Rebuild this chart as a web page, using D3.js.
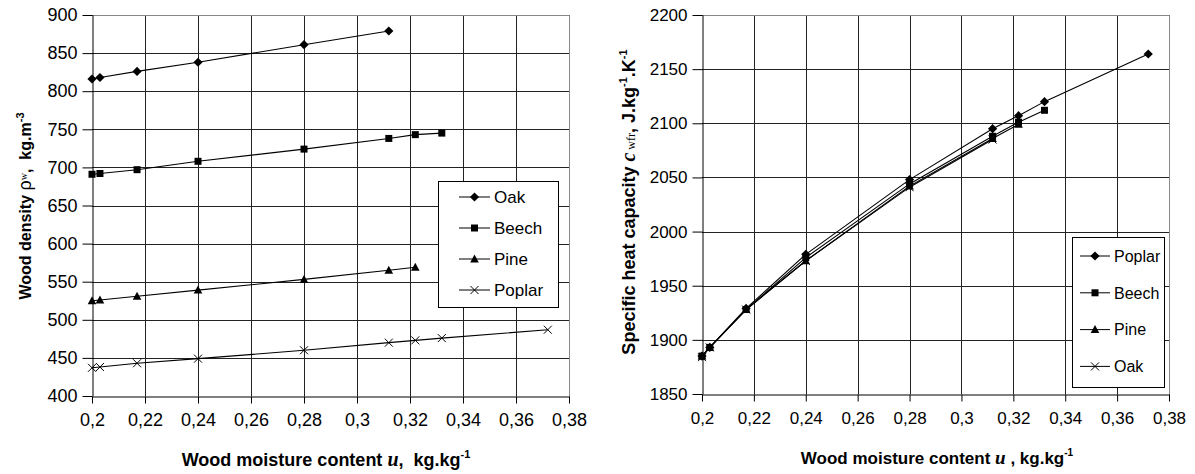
<!DOCTYPE html>
<html>
<head>
<meta charset="utf-8">
<script src="https://cdn.jsdelivr.net/npm/d3@7"></script>
<style>
  body { margin: 0; background: #fff; }
  svg { display: block; font-family: Arial, "Liberation Sans", sans-serif; }
</style>
</head>
<body>
<svg id="chart" width="1195" height="474"></svg>
<script>
//-----------------------------------------
// data
//-----------------------------------------
var uOak = [0.2, 0.203, 0.217, 0.24, 0.28, 0.312];
var uBeech = [0.2, 0.203, 0.217, 0.24, 0.28, 0.312, 0.322, 0.332];
var uPine = [0.2, 0.203, 0.217, 0.24, 0.28, 0.312, 0.322];
var uPoplar = [0.2, 0.203, 0.217, 0.24, 0.28, 0.312, 0.322, 0.332, 0.372];

// wood density, kg.m-3
var densityOak = [816, 818, 826, 838, 861, 879];
var densityBeech = [691, 692, 697, 708, 724, 738, 743, 745];
var densityPine = [525, 526, 531, 539, 553, 565, 569];
var densityPoplar = [437, 438, 443, 449, 460, 470, 473, 476, 487];

// specific heat capacity, J.kg-1.K-1
var heatPoplar = [1885, 1893, 1929, 1979, 2048, 2095, 2107, 2120, 2164];
var heatBeech = [1885, 1893, 1928, 1976, 2044, 2088, 2101, 2112];
var heatPine = [1885, 1893, 1928, 1973, 2042, 2086, 2099];
var heatOak = [1884, 1893, 1928, 1973, 2041, 2085];

var xTicks = [0.2, 0.22, 0.24, 0.26, 0.28, 0.3, 0.32, 0.34, 0.36, 0.38];
var densityTicks = [400, 450, 500, 550, 600, 650, 700, 750, 800, 850, 900];
var heatTicks = [1850, 1900, 1950, 2000, 2050, 2100, 2150, 2200];

function zip(xs, ys) {
    return xs.map(function (x, i) { return { u: x, v: ys[i] }; });
}

var svg = d3.select("#chart");

//-----------------------------------------
// markers
//-----------------------------------------
function drawMarker(g, shape) {
    if (shape === "cross") {
        g.append("path")
            .attr("d", "M-4,-4L4,4M-4,4L4,-4")
            .attr("stroke", "#000")
            .attr("stroke-width", 1)
            .attr("fill", "none");
    } else if (shape === "diamond") {
        g.append("path")
            .attr("d", "M0,-4.6L4.6,0L0,4.6L-4.6,0Z")
            .attr("fill", "#000");
    } else if (shape === "square") {
        g.append("path")
            .attr("d", "M-3.5,-3.5H3.5V3.5H-3.5Z")
            .attr("fill", "#000");
    } else {
        g.append("path")
            .attr("d", "M0,-4.5L4.3,3.5H-4.3Z")
            .attr("fill", "#000");
    }
}

//-----------------------------------------
// one panel
//-----------------------------------------
function drawPanel(cfg) {
    var x = d3.scaleLinear().domain([0.2, 0.38]).range([cfg.left, cfg.right]);
    var y = d3.scaleLinear().domain(cfg.yDomain).range([cfg.bottom, cfg.top]);

    var g = svg.append("g");

    // gridlines
    g.append("g").selectAll("line.h")
        .data(cfg.yTicks.slice(1))
        .enter().append("line")
        .attr("x1", cfg.left).attr("x2", cfg.right)
        .attr("y1", function (d) { return Math.round(y(d)) + 0.5; })
        .attr("y2", function (d) { return Math.round(y(d)) + 0.5; })
        .attr("stroke", "#222").attr("stroke-width", 1);

    g.append("g").selectAll("line.v")
        .data(xTicks.slice(1))
        .enter().append("line")
        .attr("y1", cfg.top).attr("y2", cfg.bottom)
        .attr("x1", function (d) { return Math.round(x(d)) + 0.5; })
        .attr("x2", function (d) { return Math.round(x(d)) + 0.5; })
        .attr("stroke", "#222").attr("stroke-width", 1);

    // plot border (top / right in grey)
    g.append("path")
        .attr("d", "M" + (cfg.left + 0.5) + "," + (cfg.top + 0.5) + "H" + (cfg.right + 0.5) + "V" + (cfg.bottom + 0.5))
        .attr("fill", "none").attr("stroke", "#888");

    // axes
    var fmt = function (d) { return String(+d.toFixed(2)).replace(".", ","); };

    var xAxis = g.append("g")
        .attr("transform", "translate(0," + (Math.round(cfg.bottom) + 0.5) + ")")
        .call(d3.axisBottom(x).tickValues(xTicks).tickFormat(fmt).tickSizeInner(7).tickSizeOuter(0).tickPadding(10));
    xAxis.select(".domain").attr("stroke", "#000");
    xAxis.selectAll(".tick line").attr("stroke", "#000");
    xAxis.selectAll("text").attr("font-size", cfg.tickFs).attr("fill", "#000")
        .attr("font-family", "Arial, 'Liberation Sans', sans-serif");

    var yAxis = g.append("g")
        .attr("transform", "translate(" + (Math.round(cfg.left) + 0.5) + ",0)")
        .call(d3.axisLeft(y).tickValues(cfg.yTicks).tickFormat(d3.format("d")).tickSizeInner(10).tickSizeOuter(0).tickPadding(5));
    yAxis.select(".domain").attr("stroke", "#000");
    yAxis.selectAll(".tick line").attr("stroke", "#000");
    yAxis.selectAll("text").attr("font-size", cfg.tickFs).attr("fill", "#000")
        .attr("font-family", "Arial, 'Liberation Sans', sans-serif");

    // series
    var line = d3.line().x(function (d) { return x(d.u); }).y(function (d) { return y(d.v); });
    cfg.series.forEach(function (s) {
        var pts = zip(s.u, s.v);
        g.append("path")
            .datum(pts)
            .attr("d", line)
            .attr("fill", "none")
            .attr("stroke", "#000")
            .attr("stroke-width", 1.1);
        g.append("g").selectAll("g")
            .data(pts)
            .enter().append("g")
            .attr("transform", function (d) { return "translate(" + x(d.u) + "," + y(d.v) + ")"; })
            .each(function () { drawMarker(d3.select(this), s.shape); });
    });

    // legend
    var lg = cfg.legend;
    var leg = g.append("g");
    leg.append("rect")
        .attr("x", lg.x + 0.5).attr("y", lg.y + 0.5)
        .attr("width", lg.w).attr("height", lg.h)
        .attr("fill", "#fff").attr("stroke", "#000");
    cfg.series.forEach(function (s, i) {
        var ey = lg.y + lg.first + i * lg.step;
        var row = leg.append("g");
        row.append("line")
            .attr("x1", lg.x + lg.lineX).attr("x2", lg.x + lg.lineX + lg.lineW)
            .attr("y1", ey).attr("y2", ey)
            .attr("stroke", "#000");
        var m = row.append("g").attr("transform", "translate(" + (lg.x + lg.lineX + lg.lineW / 2) + "," + ey + ")");
        drawMarker(m, s.shape);
        row.append("text")
            .attr("x", lg.x + lg.lineX + lg.lineW + 4)
            .attr("y", ey)
            .attr("dy", "0.36em")
            .attr("font-size", lg.fs)
            .text(s.name);
    });

    // x title
    var xt = g.append("text")
        .attr("x", cfg.xTitleX).attr("y", cfg.xTitleY)
        .attr("text-anchor", "middle")
        .attr("font-size", cfg.xTitleFs).attr("font-weight", "bold");
    cfg.xTitle(xt);

    // y title
    var yt = g.append("text")
        .attr("transform", "translate(" + cfg.yTitleX + "," + cfg.yTitleY + ") rotate(-90)")
        .attr("text-anchor", "middle")
        .attr("font-size", cfg.yTitleFs).attr("font-weight", "bold");
    cfg.yTitle(yt);
}

//-----------------------------------------
// left panel: density
//-----------------------------------------
drawPanel({
    left: 92, right: 569, top: 15, bottom: 396,
    yDomain: [400, 900], yTicks: densityTicks,
    tickFs: 18, xTitleFs: 18, yTitleFs: 16,
    series: [
        { name: "Oak", shape: "diamond", u: uOak, v: densityOak },
        { name: "Beech", shape: "square", u: uBeech, v: densityBeech },
        { name: "Pine", shape: "triangle", u: uPine, v: densityPine },
        { name: "Poplar", shape: "cross", u: uPoplar, v: densityPoplar }
    ],
    legend: { x: 438, y: 181, w: 120, h: 126, first: 16, step: 31, lineX: 21, lineW: 31, fs: 17 },
    xTitleX: 326, xTitleY: 466,
    xTitle: function (t) {
        t.append("tspan").text("Wood moisture content ");
        t.append("tspan").attr("font-family", "'Liberation Serif', serif").attr("font-style", "italic").attr("font-size", 20).text("u");
        t.append("tspan").text(",\u00a0 kg.kg");
        t.append("tspan").attr("font-size", 11).attr("dy", -8).text("-1");
    },
    yTitleX: 31, yTitleY: 206,
    yTitle: function (t) {
        t.append("tspan").text("Wood density ");
        t.append("tspan").attr("font-weight", "normal").attr("font-size", 18).text("ρ");
        t.append("tspan").attr("font-family", "'Liberation Serif', serif").attr("font-weight", "normal").attr("font-size", 10).attr("dy", -4).text("w");
        t.append("tspan").attr("dy", 4).text(",\u00a0 kg.m");
        t.append("tspan").attr("font-size", 11).attr("dy", -7).text("-3");
    }
});

//-----------------------------------------
// right panel: specific heat capacity
//-----------------------------------------
drawPanel({
    left: 702, right: 1169, top: 15, bottom: 394,
    yDomain: [1850, 2200], yTicks: heatTicks,
    tickFs: 17, xTitleFs: 17, yTitleFs: 18,
    series: [
        { name: "Poplar", shape: "diamond", u: uPoplar, v: heatPoplar },
        { name: "Beech", shape: "square", u: uBeech, v: heatBeech },
        { name: "Pine", shape: "triangle", u: uPine, v: heatPine },
        { name: "Oak", shape: "cross", u: uOak, v: heatOak }
    ],
    legend: { x: 1072, y: 237, w: 92, h: 150, first: 19, step: 36.8, lineX: 8, lineW: 30, fs: 16 },
    xTitleX: 937, xTitleY: 464,
    xTitle: function (t) {
        t.append("tspan").text("Wood moisture content ");
        t.append("tspan").attr("font-family", "'Liberation Serif', serif").attr("font-style", "italic").attr("font-size", 19).text("u");
        t.append("tspan").text(" , kg.kg");
        t.append("tspan").attr("font-size", 10).attr("dy", -8).text("-1");
    },
    yTitleX: 635, yTitleY: 202,
    yTitle: function (t) {
        t.append("tspan").text("Specific heat capacity ");
        t.append("tspan").attr("font-family", "'Liberation Serif', serif").attr("font-style", "italic").attr("font-size", 20).text("c");
        t.append("tspan").attr("font-family", "'Liberation Serif', serif").attr("font-weight", "normal").attr("font-size", 12).text(" wfr");
        t.append("tspan").text(", J.kg");
        t.append("tspan").attr("font-size", 11).attr("dy", -8).text("-1");
        t.append("tspan").attr("dy", 8).text(".K");
        t.append("tspan").attr("font-size", 11).attr("dy", -8).text("-1");
    }
});
</script>
</body>
</html>
